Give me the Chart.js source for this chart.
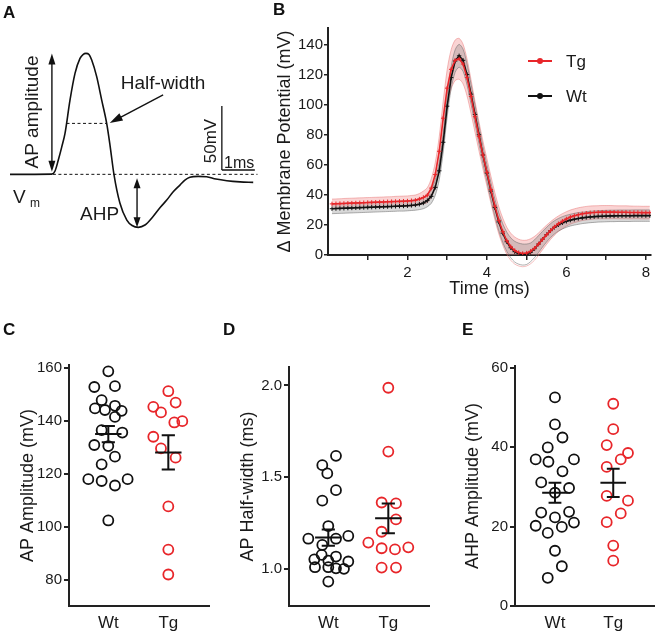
<!DOCTYPE html>
<html><head><meta charset="utf-8">
<script src="https://cdn.jsdelivr.net/npm/chart.js@4.4.1/dist/chart.umd.min.js"></script>
<style>
html,body{margin:0;padding:0;background:#fff;}
body{width:661px;height:637px;position:relative;overflow:hidden;font-family:"Liberation Sans",Arial,sans-serif;}
canvas{position:absolute;}
.lbl{position:absolute;font-weight:bold;font-size:17px;line-height:1;color:#111;z-index:2;}
</style></head><body>
<div class="lbl" style="left:3px;top:4px">A</div>
<div class="lbl" style="left:273px;top:1px">B</div>
<div class="lbl" style="left:3px;top:321px">C</div>
<div class="lbl" style="left:223px;top:321px">D</div>
<div class="lbl" style="left:462px;top:321px">E</div>
<canvas id="cA" style="left:0;top:0" width="260" height="240"></canvas>
<canvas id="cB" style="left:260px;top:0" width="401" height="300"></canvas>
<canvas id="cC" style="left:0;top:310px" width="220" height="327"></canvas>
<canvas id="cD" style="left:220px;top:310px" width="220" height="327"></canvas>
<canvas id="cE" style="left:440px;top:310px" width="221" height="327"></canvas>
<script>
// ---------- Panel A: schematic action potential (ms, mV relative to Vm) ----------
const apTime = [0,1.264,1.364,1.464,1.567,1.667,1.818,1.97,2.121,2.212,2.303,2.394,2.476,2.627,2.779,2.93,3.03,3.15,3.33,3.54,3.70,3.89,4.09,4.33,4.55,4.75,4.94,5.15,5.30,5.45,5.70,5.96,6.24,6.57,6.97,7.37];
const apVolt = [0,0.2,2.6,11.2,21.3,32,58,78.9,90.6,93.6,94.5,93.6,89.3,76.3,58,39.8,22.9,0,-22.4,-35.7,-40,-41.4,-39.6,-33.1,-25.9,-20.1,-13.8,-8.4,-4.5,-2.3,-1.6,-1.9,-3.7,-5,-5.9,-6.3];
const halfWidthLevel = 39.8;
const scaleBarMv = 50, scaleBarMs = 1;

// ---------- Panel B: averaged traces ----------
const bTime = [0.1,0.2,0.3,0.4,0.5,0.6,0.7,0.8,0.9,1.0,1.1,1.2,1.3,1.4,1.5,1.6,1.7,1.8,1.9,2.0,2.1,2.2,2.3,2.4,2.5,2.6,2.7,2.8,2.9,3.0,3.1,3.2,3.3,3.4,3.5,3.6,3.7,3.8,3.9,4.0,4.1,4.2,4.3,4.4,4.5,4.6,4.7,4.8,4.9,5.0,5.1,5.2,5.3,5.4,5.5,5.6,5.7,5.8,5.9,6.0,6.1,6.2,6.3,6.4,6.5,6.6,6.7,6.8,6.9,7.0,7.1,7.2,7.3,7.4,7.5,7.6,7.7,7.8,7.9,8.0,8.1];
const tgMean = [34.0,34.1,34.2,34.3,34.4,34.5,34.6,34.7,34.8,34.9,35.0,35.1,35.2,35.3,35.4,35.5,35.6,35.7,35.8,35.9,36.1,36.4,
 37.2,38.3,39.8,44.5,53.5,69.0,91.0,111.0,123.5,129.5,130.5,127.0,118.0,105.5,92.0,79.0,66.5,55.0,43.5,32.5,23.0,15.5,9.5,5.5,3.0,1.6,1.0,1.3,
 2.5,4.5,7.3,10.4,13.4,16.2,18.7,20.8,22.5,24.0,
 25.2,26.1,26.8,27.4,27.8,28.1,28.3,28.4,28.5,28.5,
 28.5,28.5,28.4,28.4,28.4,28.3,28.3,28.3,28.2,28.2,28.2];
const wtMean = [30.8,30.9,31.0,31.1,31.2,31.3,31.4,31.5,31.6,31.7,31.8,31.9,32.0,32.1,32.2,32.3,32.4,32.5,32.6,32.8,33.0,33.3,
 33.8,34.6,36.2,39.0,45.0,56.0,75.0,99.0,118.0,129.0,132.5,129.5,120.0,107.0,93.5,80.0,66.5,54.5,42.5,31.5,22.0,14.5,8.8,4.8,2.2,0.9,0.3,0.5,
 1.8,4.2,7.3,10.5,13.5,16.2,18.4,20.1,21.4,22.4,
 23.2,23.8,24.3,24.7,25.0,25.3,25.5,25.7,25.8,25.9,
 26.0,26.0,26.1,26.1,26.1,26.1,26.2,26.2,26.2,26.2,26.2];
const tgSem = [3.2,3.2,3.2,3.3,3.3,3.3,3.3,3.3,3.3,3.3,3.3,3.3,3.3,3.3,3.3,3.3,3.4,3.4,3.4,3.4,3.5,3.5,
 3.7,4.2,5.0,6.3,8.0,9.8,11.3,12.4,13.1,13.5,13.6,13.2,12.3,11.2,10.3,9.7,9.3,9.1,9.0,9.0,9.0,9.0,9.0,9.0,9.0,8.9,8.8,8.6,
 8.3,7.9,7.4,6.9,6.4,5.9,5.5,5.2,5.0,4.8,
 4.7,4.6,4.6,4.5,4.5,4.5,4.4,4.4,4.4,4.4,
 4.4,4.3,4.3,4.3,4.3,4.3,4.2,4.2,4.2,4.2,4.2];
const wtSem = [3.3,3.3,3.3,3.3,3.3,3.3,3.3,3.3,3.3,3.3,3.3,3.3,3.3,3.3,3.3,3.3,3.3,3.3,3.4,3.4,3.4,3.5,
 3.6,3.8,4.1,4.6,5.2,5.9,6.5,7.0,7.3,7.5,7.6,7.4,7.0,6.6,6.3,6.0,5.8,5.7,5.7,5.8,6.0,6.2,6.4,6.6,6.9,7.0,7.0,6.8,
 6.2,5.9,5.6,5.2,4.9,4.6,4.4,4.2,4.1,4.0,
 3.9,3.9,3.9,3.8,3.8,3.8,3.8,3.8,3.8,3.8,
 3.8,3.8,3.8,3.8,3.8,3.8,3.8,3.8,3.8,3.8,3.8];
const bYTicks = [0,20,40,60,80,100,120,140];
const bXTicks = [1,2,3,4,5,6,7,8];
const bXLabels = ['','2','','4','','6','','8'];

// ---------- Panels C, D, E: individual cells ----------
const groups = ['Wt','Tg'];
const ampWt = [158.6,152.7,153.0,147.7,144.6,145.6,144.0,143.7,141.4,136.4,135.5,130.8,130.4,126.4,123.5,117.9,117.2,115.5,117.9,102.3];
const ampWtJit = [0,-0.233,0.111,-0.111,-0.222,0.111,-0.056,0.222,0.111,-0.111,0.233,-0.233,0,0.111,-0.111,-0.333,-0.111,0.111,0.322,0];
const ampTg = [145.2,143.1,151.1,146.8,139.3,139.8,133.9,129.5,126.0,107.6,91.3,81.9];
const ampTgJit = [-0.25,-0.122,0,0.122,0.1,0.233,-0.25,-0.122,0.122,0,0,0];
const ampMean = [134.9,128.0];
const ampSem = [3.1,6.5];
const ampTicks = [80,100,120,140,160];

const hwWt = [1.617,1.566,1.521,1.430,1.373,1.235,1.166,1.166,1.181,1.132,1.078,1.069,1.054,1.047,1.042,1.011,1.011,1.005,1.002,0.933];
const hwWtJit = [0.128,-0.1,-0.017,0.128,-0.1,0,-0.333,0.128,0.333,-0.1,-0.111,0.128,-0.233,0,0.333,-0.222,0,0.128,0.261,0];
const hwTg = [1.987,1.640,1.363,1.358,1.271,1.204,1.145,1.114,1.108,1.119,1.009,1.009];
const hwTgJit = [0,0,-0.111,0.128,0.128,-0.111,-0.333,-0.111,0.111,0.333,-0.111,0.128];
const hwMean = [1.172,1.277];
const hwSem = [0.044,0.081];
const hwTicks = [1.0,1.5,2.0];

const ahpWt = [52.5,45.7,42.4,39.9,36.9,36.3,36.9,33.9,31.1,29.7,28.5,23.5,23.7,22.3,20.2,19.9,21.0,18.4,13.9,10.0,7.1];
const ahpWtJit = [0,0,0.129,-0.124,-0.331,-0.112,0.326,0.129,-0.236,0.242,0,-0.236,0.242,0,-0.331,0.118,0.326,-0.124,0,0.118,-0.124];
const ahpTg = [50.9,44.5,40.5,38.5,36.9,35.0,27.7,26.5,23.3,21.1,15.2,11.4];
const ahpTgJit = [0,0,-0.112,0.253,0.129,-0.112,-0.112,0.253,0.129,-0.112,0,0];
const ahpMean = [28.5,31.0];
const ahpSem = [2.5,3.55];
const ahpTicks = [0,20,40,60];

// ---------- styles ----------
const FONT = '"Liberation Sans", Arial, sans-serif';
const INK = '#1a1a1a';
const RED = '#e8262a';
Chart.defaults.font.family = FONT;
Chart.defaults.color = INK;
Chart.defaults.animation = false;
Chart.defaults.events = [];
Chart.defaults.plugins.legend.display = false;
Chart.defaults.plugins.tooltip.enabled = false;

// ---------- Panel A ----------
function crossings(level){
  let up = null, down = null;
  for (let i = 0; i < apVolt.length - 1; i++){
    const a = apVolt[i], b = apVolt[i+1];
    const t = apTime[i] + (level - a) / (b - a) * (apTime[i+1] - apTime[i]);
    if (up === null && a < level && b >= level) up = t;
    else if (up !== null && down === null && a >= level && b < level) down = t;
  }
  return [up, down];
}
function head(ctx, x1, y1, x2, y2, L, W){
  const a = Math.atan2(y2 - y1, x2 - x1);
  ctx.beginPath();
  ctx.moveTo(x2, y2);
  ctx.lineTo(x2 - L*Math.cos(a) + W*Math.sin(a), y2 - L*Math.sin(a) - W*Math.cos(a));
  ctx.lineTo(x2 - L*Math.cos(a) - W*Math.sin(a), y2 - L*Math.sin(a) + W*Math.cos(a));
  ctx.closePath(); ctx.fill();
}
function seg(ctx, x1, y1, x2, y2){ ctx.beginPath(); ctx.moveTo(x1, y1); ctx.lineTo(x2, y2); ctx.stroke(); }
const schematic = {
  id: 'schematic',
  afterDatasetsDraw(chart){
    const {ctx, scales: {x, y}} = chart;
    const X = t => x.getPixelForValue(t), Y = v => y.getPixelForValue(v);
    const peak = Math.max(...apVolt), trough = Math.min(...apVolt);
    const tTrough = apTime[apVolt.indexOf(trough)];
    const [tUp, tDown] = crossings(halfWidthLevel);
    ctx.save();
    ctx.strokeStyle = '#111'; ctx.fillStyle = '#111';
    ctx.lineWidth = 1; ctx.setLineDash([3, 2.5]);
    seg(ctx, X(1.3), Y(0), X(7.5), Y(0));
    seg(ctx, X(tUp), Y(halfWidthLevel), X(tDown), Y(halfWidthLevel));
    ctx.setLineDash([]);
    ctx.lineWidth = 1.4;
    // AP amplitude double arrow
    const xa = X(1.27);
    seg(ctx, xa, Y(2) - 8, xa, Y(peak) + 8);
    head(ctx, xa, Y(peak) + 10, xa, Y(2), 11, 3.5);
    head(ctx, xa, Y(2) - 10, xa, Y(peak), 11, 3.5);
    // AHP double arrow
    const xh = X(tTrough - 0.04);
    seg(ctx, xh, Y(-3) + 8, xh, Y(trough) - 8);
    head(ctx, xh, Y(trough) - 10, xh, Y(-3), 10, 3.5);
    head(ctx, xh, Y(-3) + 10, xh, Y(trough), 10, 3.5);
    // half-width pointer
    const px1 = X(4.64), py1 = Y(62), px2 = X(tDown) + 3, py2 = Y(halfWidthLevel) - 0.5;
    const ang = Math.atan2(py2 - py1, px2 - px1);
    seg(ctx, px1, py1, px2 - 10*Math.cos(ang), py2 - 10*Math.sin(ang));
    head(ctx, px1, py1, px2, py2, 13, 4);
    // scale bar
    ctx.lineWidth = 1.3;
    const sx = X(6.42), sy = Y(3.4);
    seg(ctx, sx, Y(3.4 + scaleBarMv), sx, sy);
    seg(ctx, sx, sy, X(6.42 + scaleBarMs), sy);
    // texts
    ctx.fillStyle = '#1a1a1a';
    ctx.font = '19px ' + FONT;
    ctx.textAlign = 'center'; ctx.textBaseline = 'middle';
    ctx.fillText('Half-width', 163, 84);
    ctx.save(); ctx.translate(33, 112); ctx.rotate(-Math.PI/2);
    ctx.fillText('AP amplitude', 0, 0); ctx.restore();
    ctx.save(); ctx.translate(211, 141); ctx.rotate(-Math.PI/2);
    ctx.font = '17px ' + FONT; ctx.fillText('50mV', 0, 0); ctx.restore();
    ctx.textAlign = 'left'; ctx.textBaseline = 'alphabetic';
    ctx.font = '16px ' + FONT; ctx.fillText('1ms', 224, 168);
    ctx.font = '19px ' + FONT; ctx.fillText('V', 13, 203);
    ctx.fillText('AHP', 80, 220);
    ctx.font = '12px ' + FONT; ctx.fillText('m', 30, 207);
    ctx.restore();
  }
};
new Chart(document.getElementById('cA'), {
  type: 'line',
  data: { datasets: [{ data: apTime.map((t, i) => ({x: t, y: apVolt[i]})), borderColor: '#111', borderWidth: 1.6,
    pointRadius: 0, fill: false, cubicInterpolationMode: 'monotone' }] },
  options: { responsive: false, layout: {padding: 0},
    scales: { x: {type: 'linear', display: false, min: -0.303, max: 7.576},
              y: {type: 'linear', display: false, min: -51.3, max: 136.2} } },
  plugins: [schematic]
});

// ---------- Panel B ----------
const pts = (xs, ys) => xs.map((t, i) => ({x: t, y: ys[i]}));
const tgUpper = tgMean.map((m, i) => m + tgSem[i]), tgLower = tgMean.map((m, i) => m - tgSem[i]);
const wtUpper = wtMean.map((m, i) => m + wtSem[i]), wtLower = wtMean.map((m, i) => m - wtSem[i]);
const legendB = {
  id: 'legendB',
  afterDraw(chart){
    const {ctx} = chart;
    const items = chart.data.datasets.filter(d => d.inLegend);
    ctx.save();
    items.forEach((d, k) => {
      const yy = 61 + k * 35;
      ctx.strokeStyle = d.borderColor; ctx.fillStyle = d.borderColor; ctx.lineWidth = 2;
      seg(ctx, 268, yy, 292, yy);
      ctx.beginPath(); ctx.arc(280, yy, 3, 0, Math.PI*2); ctx.fill();
      ctx.fillStyle = INK; ctx.font = '17px ' + FONT; ctx.textAlign = 'left'; ctx.textBaseline = 'middle';
      ctx.fillText(d.label, 306, yy + 1);
    });
    ctx.restore();
  }
};
const axisCommon = {
  grid: {drawOnChartArea: false, color: '#222', lineWidth: 1.5, tickLength: 5},
  border: {color: '#222', width: 2}
};
new Chart(document.getElementById('cB'), {
  type: 'line',
  data: { datasets: [
    {label: 'Tg', inLegend: true, data: pts(bTime, tgMean), borderColor: RED, borderWidth: 1.6, pointStyle: 'cross',
     pointRadius: 2.2, pointBorderWidth: 1, pointBorderColor: RED, fill: false},
    {label: 'Wt', inLegend: true, data: pts(bTime, wtMean), borderColor: '#111', borderWidth: 1.6, pointStyle: 'cross',
     pointRadius: 2.2, pointBorderWidth: 1, pointBorderColor: '#111', fill: false},
    {label: 'Wt +SEM', data: pts(bTime, wtUpper), borderColor: 'rgba(110,110,110,0.55)', borderWidth: 1, pointRadius: 0,
     fill: '+1', backgroundColor: 'rgba(120,120,120,0.28)', clip: false, tension: 0.3},
    {label: 'Wt -SEM', data: pts(bTime, wtLower), borderColor: 'rgba(110,110,110,0.55)', borderWidth: 1, pointRadius: 0,
     fill: false, clip: false, tension: 0.3},
    {label: 'Tg +SEM', data: pts(bTime, tgUpper), borderColor: 'rgba(230,110,110,0.45)', borderWidth: 1, pointRadius: 0,
     fill: '+1', backgroundColor: 'rgba(240,120,120,0.32)', clip: false, tension: 0.3},
    {label: 'Tg -SEM', data: pts(bTime, tgLower), borderColor: 'rgba(230,110,110,0.45)', borderWidth: 1, pointRadius: 0,
     fill: false, clip: false, tension: 0.3}
  ]},
  options: {
    responsive: false,
    layout: {padding: {top: 28, right: 10, left: 0, bottom: 0}},
    scales: {
      x: {type: 'linear', min: 0, max: 8.13, ...axisCommon,
          afterFit: s => { s.height = 45; },
          afterBuildTicks: s => { s.ticks = bXTicks.map(v => ({value: v})); },
          ticks: {autoSkip: false, maxRotation: 0, padding: 4, font: {size: 15}, callback: (v, i) => bXLabels[i]},
          title: {display: true, text: 'Time (ms)', font: {size: 18}, padding: {top: 0, bottom: 0}}},
      y: {type: 'linear', min: 0, max: 151, ...axisCommon,
          grid: {drawOnChartArea: false, color: '#222', lineWidth: 1.5, tickLength: 4},
          afterFit: s => { s.width = 68; },
          afterBuildTicks: s => { s.ticks = bYTicks.map(v => ({value: v})); },
          ticks: {padding: 1, font: {size: 15}},
          title: {display: true, text: 'Δ Membrane Potential (mV)', font: {size: 18}, padding: {top: 14, bottom: 0}}}
    }
  },
  plugins: [legendB]
});

// ---------- Panels C, D, E ----------
function meanSemPath(c, m, s){
  return [ {x: c - 0.22, y: m}, {x: c + 0.22, y: m}, {x: c, y: null},
           {x: c, y: m - s}, {x: c, y: m + s}, {x: c, y: null},
           {x: c - 0.11, y: m + s}, {x: c + 0.11, y: m + s}, {x: c, y: null},
           {x: c - 0.11, y: m - s}, {x: c + 0.11, y: m - s} ];
}
function dotChart(id, o){
  const ds = [
    {type: 'line', data: meanSemPath(1, o.mean[0], o.sem[0]), borderColor: '#111', borderWidth: 2, pointRadius: 0, spanGaps: false, fill: false, showLine: true},
    {type: 'line', data: meanSemPath(2, o.mean[1], o.sem[1]), borderColor: '#111', borderWidth: 2, pointRadius: 0, spanGaps: false, fill: false, showLine: true},
    {label: groups[0], data: o.wt.map((v, i) => ({x: 1 + o.wtJ[i], y: v})), pointRadius: 5, pointBorderWidth: 1.8,
     pointBorderColor: '#111', pointBackgroundColor: 'rgba(0,0,0,0)', showLine: false},
    {label: groups[1], data: o.tg.map((v, i) => ({x: 2 + o.tgJ[i], y: v})), pointRadius: 5, pointBorderWidth: 1.8,
     pointBorderColor: RED, pointBackgroundColor: 'rgba(0,0,0,0)', showLine: false}
  ];
  new Chart(document.getElementById(id), {
    type: 'scatter',
    data: {datasets: ds},
    options: {
      responsive: false,
      layout: {padding: {top: o.top, right: o.right, left: 0, bottom: 0}},
      scales: {
        x: {type: 'linear', min: o.xMin, max: o.xMax,
            grid: {display: false, drawTicks: false}, border: {display: true, color: '#222', width: 2},
            afterFit: s => { s.height = 31; },
            afterBuildTicks: s => { s.ticks = [{value: 1}, {value: 2}]; },
            ticks: {autoSkip: false, maxRotation: 0, padding: 7, font: {size: 17}, callback: (v, i) => groups[i]}},
        y: {type: 'linear', min: o.yMin, max: o.yMax,
            grid: {drawOnChartArea: false, color: '#222', lineWidth: 2, tickLength: 5},
            border: {color: '#222', width: 2},
            afterFit: s => { s.width = o.yWidth; },
            afterBuildTicks: s => { s.ticks = o.ticks.map(v => ({value: v})); },
            ticks: {padding: 2, font: {size: 15}, callback: v => o.fmt(v)},
            title: {display: true, text: o.title, font: {size: 18}, padding: {top: o.titlePad, bottom: 0}}}
      }
    }
  });
}
dotChart('cC', {wt: ampWt, wtJ: ampWtJit, tg: ampTg, tgJ: ampTgJit, mean: ampMean, sem: ampSem,
  yMin: 70, yMax: 161, ticks: ampTicks, fmt: v => String(v), title: 'AP Amplitude (mV)',
  xMin: 0.345, xMax: 2.678, yWidth: 69, top: 55, right: 11, titlePad: 17});
dotChart('cD', {wt: hwWt, wtJ: hwWtJit, tg: hwTg, tgJ: hwTgJit, mean: hwMean, sem: hwSem,
  yMin: 0.8, yMax: 2.1, ticks: hwTicks, fmt: v => v.toFixed(1), title: 'AP Half-width (ms)',
  xMin: 0.345, xMax: 2.678, yWidth: 69, top: 57, right: 11, titlePad: 17});
dotChart('cE', {wt: ahpWt, wtJ: ahpWtJit, tg: ahpTg, tgJ: ahpTgJit, mean: ahpMean, sem: ahpSem,
  yMin: 0, yMax: 60.4, ticks: ahpTicks, fmt: v => String(v), title: 'AHP Amplitude (mV)',
  xMin: 0.314, xMax: 2.703, yWidth: 75, top: 56, right: 4, titlePad: 22});
</script>
</body></html>
